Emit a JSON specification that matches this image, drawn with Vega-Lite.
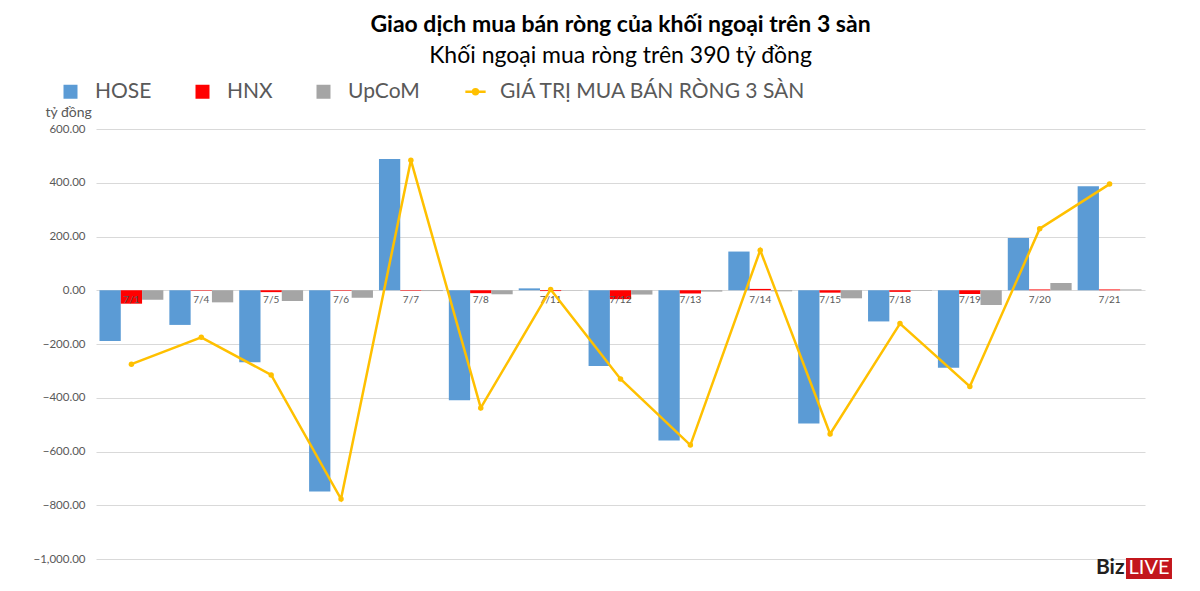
{
  "$schema": "https://vega.github.io/schema/vega-lite/v6.json",
  "autosize": {"type": "none"},
  "width": 1049,
  "height": 430,
  "padding": {"left": 96, "top": 129, "right": 55, "bottom": 32},
  "config": {"view": {"stroke": null}, "font": "Lato"},
  "title": {
    "text": "Giao dịch mua bán ròng của khối ngoại trên 3 sàn",
    "subtitle": "Khối ngoại mua ròng trên 390 tỷ đồng",
    "anchor": "middle",
    "frame": "group",
    "font": "Lato",
    "fontSize": 23,
    "fontWeight": "bold",
    "color": "#000000",
    "subtitleFont": "Lato",
    "subtitleFontSize": 23,
    "subtitleColor": "#000000",
    "subtitlePadding": 8,
    "offset": 13
  },
  "data": {
    "values": [
      {"date": "7/1", "series": "HOSE", "value": -189},
      {"date": "7/4", "series": "HOSE", "value": -129},
      {"date": "7/5", "series": "HOSE", "value": -268},
      {"date": "7/6", "series": "HOSE", "value": -749},
      {"date": "7/7", "series": "HOSE", "value": 488},
      {"date": "7/8", "series": "HOSE", "value": -409},
      {"date": "7/11", "series": "HOSE", "value": 7},
      {"date": "7/12", "series": "HOSE", "value": -282},
      {"date": "7/13", "series": "HOSE", "value": -559},
      {"date": "7/14", "series": "HOSE", "value": 144},
      {"date": "7/15", "series": "HOSE", "value": -496},
      {"date": "7/18", "series": "HOSE", "value": -116},
      {"date": "7/19", "series": "HOSE", "value": -288},
      {"date": "7/20", "series": "HOSE", "value": 194},
      {"date": "7/21", "series": "HOSE", "value": 387},
      {"date": "7/1", "series": "HNX", "value": -50},
      {"date": "7/4", "series": "HNX", "value": -2},
      {"date": "7/5", "series": "HNX", "value": -7},
      {"date": "7/6", "series": "HNX", "value": -2},
      {"date": "7/7", "series": "HNX", "value": -2},
      {"date": "7/8", "series": "HNX", "value": -11},
      {"date": "7/11", "series": "HNX", "value": -3},
      {"date": "7/12", "series": "HNX", "value": -33},
      {"date": "7/13", "series": "HNX", "value": -12},
      {"date": "7/14", "series": "HNX", "value": 5},
      {"date": "7/15", "series": "HNX", "value": -9},
      {"date": "7/18", "series": "HNX", "value": -6},
      {"date": "7/19", "series": "HNX", "value": -14},
      {"date": "7/20", "series": "HNX", "value": 3},
      {"date": "7/21", "series": "HNX", "value": 3},
      {"date": "7/1", "series": "UpCoM", "value": -35},
      {"date": "7/4", "series": "UpCoM", "value": -45},
      {"date": "7/5", "series": "UpCoM", "value": -40},
      {"date": "7/6", "series": "UpCoM", "value": -28},
      {"date": "7/7", "series": "UpCoM", "value": -3},
      {"date": "7/8", "series": "UpCoM", "value": -15},
      {"date": "7/11", "series": "UpCoM", "value": -1},
      {"date": "7/12", "series": "UpCoM", "value": -16},
      {"date": "7/13", "series": "UpCoM", "value": -5},
      {"date": "7/14", "series": "UpCoM", "value": -4},
      {"date": "7/15", "series": "UpCoM", "value": -30},
      {"date": "7/18", "series": "UpCoM", "value": -2},
      {"date": "7/19", "series": "UpCoM", "value": -55},
      {"date": "7/20", "series": "UpCoM", "value": 27},
      {"date": "7/21", "series": "UpCoM", "value": 3},
      {"date": "7/1", "series": "GIÁ TRỊ MUA BÁN RÒNG 3 SÀN", "value": -275},
      {"date": "7/4", "series": "GIÁ TRỊ MUA BÁN RÒNG 3 SÀN", "value": -175},
      {"date": "7/5", "series": "GIÁ TRỊ MUA BÁN RÒNG 3 SÀN", "value": -315},
      {"date": "7/6", "series": "GIÁ TRỊ MUA BÁN RÒNG 3 SÀN", "value": -777},
      {"date": "7/7", "series": "GIÁ TRỊ MUA BÁN RÒNG 3 SÀN", "value": 484},
      {"date": "7/8", "series": "GIÁ TRỊ MUA BÁN RÒNG 3 SÀN", "value": -438},
      {"date": "7/11", "series": "GIÁ TRỊ MUA BÁN RÒNG 3 SÀN", "value": 3},
      {"date": "7/12", "series": "GIÁ TRỊ MUA BÁN RÒNG 3 SÀN", "value": -330},
      {"date": "7/13", "series": "GIÁ TRỊ MUA BÁN RÒNG 3 SÀN", "value": -576},
      {"date": "7/14", "series": "GIÁ TRỊ MUA BÁN RÒNG 3 SÀN", "value": 149},
      {"date": "7/15", "series": "GIÁ TRỊ MUA BÁN RÒNG 3 SÀN", "value": -535},
      {"date": "7/18", "series": "GIÁ TRỊ MUA BÁN RÒNG 3 SÀN", "value": -124},
      {"date": "7/19", "series": "GIÁ TRỊ MUA BÁN RÒNG 3 SÀN", "value": -358},
      {"date": "7/20", "series": "GIÁ TRỊ MUA BÁN RÒNG 3 SÀN", "value": 229},
      {"date": "7/21", "series": "GIÁ TRỊ MUA BÁN RÒNG 3 SÀN", "value": 395}
    ]
  },
  "encoding": {
    "x": {
      "field": "date",
      "type": "nominal",
      "axis": null,
      "scale": {
        "domain": ["7/1", "7/4", "7/5", "7/6", "7/7", "7/8", "7/11", "7/12", "7/13", "7/14", "7/15", "7/18", "7/19", "7/20", "7/21"],
        "paddingInner": 0.086,
        "paddingOuter": 0.05
      }
    },
    "y": {
      "field": "value",
      "type": "quantitative",
      "scale": {"domain": [-1000, 600], "nice": false, "zero": false},
      "axis": {
        "values": [-1000, -800, -600, -400, -200, 0, 200, 400, 600],
        "format": ",.2f",
        "domain": false,
        "ticks": false,
        "grid": true,
        "gridColor": "#D9D9D9",
        "gridWidth": 1,
        "labelFont": "Lato",
        "labelFontSize": 11.5,
        "labelColor": "#595959",
        "labelPadding": 11,
        "title": "tỷ đồng",
        "titleAngle": 0,
        "titleAlign": "left",
        "titleBaseline": "middle",
        "titleX": -51,
        "titleY": -17,
        "titleFont": "Lato",
        "titleFontSize": 14,
        "titleFontWeight": "normal",
        "titleColor": "#595959"
      }
    }
  },
  "layer": [
    {
      "transform": [{"filter": "datum.series !== 'GIÁ TRỊ MUA BÁN RÒNG 3 SÀN'"}],
      "mark": {"type": "bar"},
      "encoding": {
        "xOffset": {
          "field": "series",
          "type": "nominal",
          "scale": {"domain": ["HOSE", "HNX", "UpCoM"], "paddingInner": 0, "paddingOuter": 0}
        },
        "color": {
          "field": "series",
          "type": "nominal",
          "scale": {
            "domain": ["HOSE", "HNX", "UpCoM", "GIÁ TRỊ MUA BÁN RÒNG 3 SÀN"],
            "range": ["#5B9BD5", "#FF0000", "#A5A5A5", "#FFC000"]
          },
          "legend": {
            "orient": "none",
            "legendX": -36,
            "legendY": -48,
            "direction": "horizontal",
            "title": null,
            "labelFont": "Lato",
            "labelFontSize": 21,
            "labelColor": "#595959",
            "labelLimit": 0,
            "symbolSize": 196,
            "symbolType": "square",
            "columnPadding": 40,
            "labelOffset": 14,
            "encode": {
              "symbols": {
                "update": {
                  "shape": {"signal": "datum.value === 'GIÁ TRỊ MUA BÁN RÒNG 3 SÀN' ? 'M-1.45,0H1.45M-0.35,0A0.35,0.35 0 1,0 0.35,0A0.35,0.35 0 1,0 -0.35,0' : 'square'"},
                  "fill": {"scale": "color", "field": "value"},
                  "stroke": {"scale": "color", "field": "value"},
                  "strokeWidth": {"signal": "datum.value === 'GIÁ TRỊ MUA BÁN RÒNG 3 SÀN' ? 2.5 : 0"},
                  "opacity": {"value": 1},
                  "fillOpacity": {"value": 1}
                }
              }
            }
          }
        }
      }
    },
    {
      "transform": [{"filter": "datum.series === 'HOSE'"}],
      "mark": {"type": "text", "baseline": "top", "dy": 5, "fontSize": 10, "font": "Lato", "color": "#595959"},
      "encoding": {
        "y": {"datum": 0, "type": "quantitative"},
        "text": {"field": "date"}
      }
    },
    {
      "transform": [{"filter": "datum.series === 'GIÁ TRỊ MUA BÁN RÒNG 3 SÀN'"}],
      "mark": {"type": "line", "strokeWidth": 2.5, "point": {"filled": true, "size": 30}},
      "encoding": {
        "color": {"field": "series", "type": "nominal"}
      }
    },
    {
      "transform": [{"filter": "datum.series === 'HOSE' && datum.date === '7/21'"}],
      "mark": {"type": "point", "shape": "M1.64,-0.1H6.24V2.0H1.64Z", "size": 400, "filled": true, "color": "#C3161C", "opacity": 1},
      "encoding": {
        "y": {"datum": -1000, "type": "quantitative"}
      }
    },
    {
      "transform": [{"filter": "datum.series === 'HOSE' && datum.date === '7/21'"}],
      "mark": {"type": "text", "align": "right", "baseline": "middle", "dx": 15, "dy": 9, "fontSize": 21, "fontWeight": "bold", "font": "Lato", "color": "#231F20"},
      "encoding": {
        "y": {"datum": -1000, "type": "quantitative"},
        "text": {"value": "Biz"}
      }
    },
    {
      "transform": [{"filter": "datum.series === 'HOSE' && datum.date === '7/21'"}],
      "mark": {"type": "text", "align": "center", "baseline": "middle", "dx": 39.5, "dy": 9, "fontSize": 20, "font": "Lato", "color": "#FFFFFF"},
      "encoding": {
        "y": {"datum": -1000, "type": "quantitative"},
        "text": {"value": "LIVE"}
      }
    }
  ]
}
